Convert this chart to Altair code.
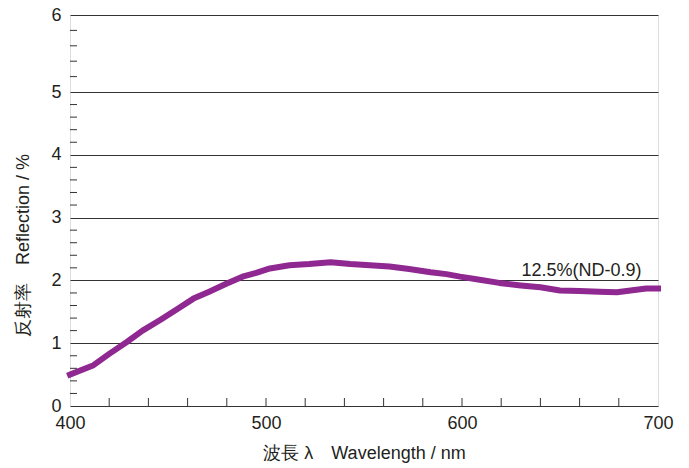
import altair as alt
import pandas as pd

# Data
wavelength = [400, 412, 420, 429, 437, 446, 455, 463, 471, 480, 488, 495, 502, 512,
              522, 533, 543, 553, 563, 573, 584, 592, 599, 609, 619, 630, 640, 650,
              660, 670, 679, 686, 694, 700]
reflection = [0.50, 0.65, 0.83, 1.02, 1.20, 1.37, 1.55, 1.71, 1.82, 1.95, 2.06, 2.12,
              2.19, 2.24, 2.26, 2.29, 2.26, 2.24, 2.22, 2.18, 2.13, 2.10, 2.06, 2.01,
              1.96, 1.92, 1.89, 1.84, 1.83, 1.82, 1.81, 1.84, 1.87, 1.87]

x_major = [400, 500, 600, 700]
x_minor = [420, 440, 460, 480, 500, 520, 540, 560, 580, 600, 620, 640, 660, 680]
y_major = [0, 1, 2, 3, 4, 5, 6]
y_minor = [0.2, 0.4, 0.6, 0.8, 1.2, 1.4, 1.6, 1.8, 2.2, 2.4, 2.6, 2.8, 3.2, 3.4, 3.6,
           3.8, 4.2, 4.4, 4.6, 4.8, 5.2, 5.4, 5.6, 5.8]

label_text = ["12.5%(ND-0.9)"]
label_x = [661]
label_y = [2.07]

W, H = 588, 391
FONT = "Liberation Sans, Arial, Helvetica, 'Noto Sans CJK JP', sans-serif"
INK = "#231f20"
LINE = "#333333"
PURPLE = "#8f2891"

xscale = alt.Scale(domain=[400, 700], nice=False, zero=False)
yscale = alt.Scale(domain=[0, 5, 6], range=[H, 77, 0], nice=False, zero=False)

df = pd.DataFrame({"wl": wavelength, "r": reflection})
dxm = pd.DataFrame({"wl": x_minor})
dym = pd.DataFrame({"r": y_minor})
dlab = pd.DataFrame({"t": label_text, "wl": label_x, "r": label_y})

xaxis = alt.Axis(values=x_major, grid=False, ticks=False, domain=False,
                 labelFontSize=18, labelPadding=8, labelFlush=False,
                 labelOverlap=False, labelColor=INK, format="d",
                 title="波長 λ　Wavelength / nm", titleFontSize=18,
                 titleFontWeight="normal", titleColor=INK, titlePadding=12)
yaxis = alt.Axis(values=y_major, grid=True, gridColor=LINE, gridWidth=1,
                 gridOpacity=1, ticks=False, domain=False, format="d",
                 labelFontSize=18, labelPadding=9, labelFlush=False,
                 labelOverlap=False, labelColor=INK,
                 title="反射率　Reflection / %", titleFontSize=18,
                 titleFontWeight="normal", titleColor=INK, titlePadding=18,
                 titleY=230)

line = alt.Chart(df).mark_line(color=PURPLE, strokeWidth=6, strokeJoin="round",
                               strokeCap="square").encode(
    x=alt.X("wl:Q", scale=xscale, axis=xaxis),
    y=alt.Y("r:Q", scale=yscale, axis=yaxis),
)

xticks = alt.Chart(dxm).mark_rule(color=LINE, strokeWidth=1).encode(
    x=alt.X("wl:Q", scale=xscale),
    y=alt.value(H),
    y2=alt.value(H - 8),
)

yticks = alt.Chart(dym).mark_rule(color=LINE, strokeWidth=1).encode(
    y=alt.Y("r:Q", scale=yscale),
    x=alt.value(0),
    x2=alt.value(7),
)

label = alt.Chart(dlab).mark_text(fontSize=18, color=INK, align="center",
                                  baseline="alphabetic", font=FONT).encode(
    x=alt.X("wl:Q", scale=xscale),
    y=alt.Y("r:Q", scale=yscale),
    text="t:N",
)

chart = alt.layer(xticks, yticks, line, label).properties(
    width=W, height=H,
    autosize=alt.AutoSizeParams(type="none"),
    padding={"left": 62, "top": 7, "right": 20, "bottom": 62},
).configure_view(
    stroke=LINE, strokeWidth=1
).configure_axis(
    labelFont=FONT, titleFont=FONT
).configure(background="white")

chart.save("out.html", embed_options={"renderer": "svg", "actions": False})
